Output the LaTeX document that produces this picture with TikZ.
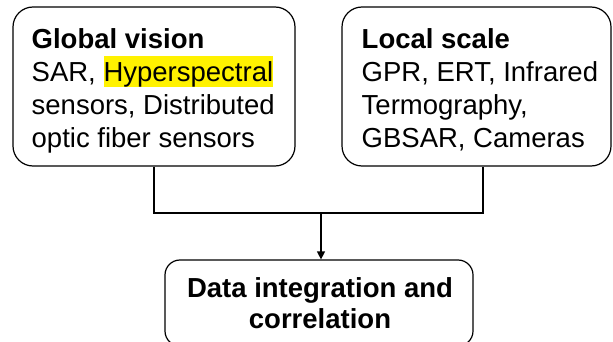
\documentclass[tikz,border=0pt]{standalone}
\usepackage{fontspec}
\setmainfont{Liberation Sans}
\usetikzlibrary{arrows.meta,calc}
\begin{document}
\begin{tikzpicture}[x=1pt,y=-1pt,
  box/.style={draw=black,line width=1.2pt,rounded corners=20pt,fill=white,inner sep=0pt},
  txt/.style={inner sep=0pt,align=left,font=\fontsize{27.5}{33}\selectfont},
  ctxt/.style={inner sep=0pt,align=center,font=\fontsize{27.5}{31}\selectfont\bfseries},
  conn/.style={line width=1.2pt}]
\useasboundingbox[fill=white] (0,0) rectangle (613,342);
\node[box,minimum width=282pt,minimum height=159pt] (L) at (154,86.5) {};
\node[box,minimum width=269pt,minimum height=159pt] (R) at (476.5,86.5) {};
\node[box,rounded corners=15pt,minimum width=308pt,minimum height=86pt] (D) at (319,303) {};
\node[txt,anchor=north west] (Lt) at (31.5,28.5) {\textbf{Global vision}\\SAR, {\setlength{\fboxsep}{0pt}\colorbox{yellow}{\rule[-5pt]{0pt}{31pt}Hyperspectral}}\\sensors, Distributed\\optic fiber sensors};
\node[txt,anchor=north west] (Rt) at (361.5,28.5) {\textbf{Local scale}\\GPR, ERT, Infrared\\Termography,\\GBSAR, Cameras};
\node[ctxt,anchor=north] (Dt) at (320,277.5) {Data integration and\\correlation};
\coordinate (J) at (321,213);
\draw[conn] (L.south) |- (J) -| ([xshift=6.5pt]R.south);
\draw[conn,-{Triangle[length=8pt,width=8pt]}] (J) -- ([xshift=2pt]D.north);
\end{tikzpicture}
\end{document}
